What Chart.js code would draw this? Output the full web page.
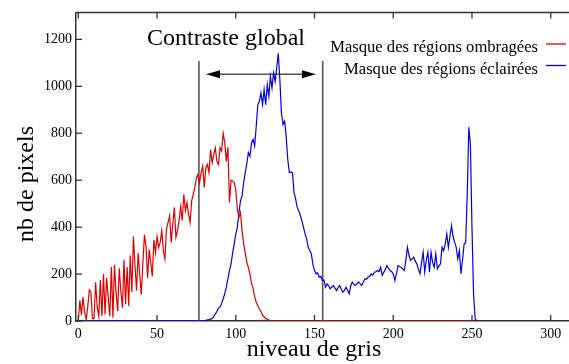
<!DOCTYPE html>
<html>
<head>
<meta charset="utf-8">
<title>Histogramme des niveaux de gris</title>
<script src="https://cdn.jsdelivr.net/npm/chart.js@4.4.1/dist/chart.umd.min.js"></script>
<style>
  html, body { margin: 0; padding: 0; background: #fff; overflow: hidden; }
  #wrap { width: 569px; height: 364px; overflow: hidden; }
  canvas { display: block; }
</style>
</head>
<body>
<div id="wrap"><canvas id="histChart" width="600" height="364"></canvas></div>
<script>
// Series labels
const seriesNames = ['Masque des régions ombragées', 'Masque des régions éclairées'];

// Pixel counts per grey level (index = grey level), shadowed regions mask
const shadowCounts = [
  0, 88, 25, 102, 40, 5, 60, 133, 124, 10, 10, 165, 60, 20, 175, 20, 200, 28, 183, 100,
  20, 230, 14, 240, 120, 42, 225, 130, 57, 261, 71, 230, 64, 280, 124, 360, 237, 130, 290, 200,
  112, 244, 367, 318, 183, 304, 250, 190, 346, 290, 360, 314, 335, 385, 300, 264, 392, 420, 448, 335,
  413, 484, 356, 385, 430, 487, 427, 540, 470, 505, 455, 420, 512, 540, 569, 610, 625, 590, 632, 660,
  569, 653, 667, 632, 731, 674, 710, 738, 681, 667, 738, 724, 800, 760, 680, 740, 505, 600, 597, 590,
  560, 477, 441, 462, 385, 330, 290, 250, 229, 201, 160, 140, 102, 80, 67, 50, 40, 25, 17, 10,
  8, 4, 0, 0, 0, 0, 0, 0, 0, 0, 0, 0, 0, 0, 0, 0, 0, 0, 0, 0,
  0, 0, 0, 0, 0, 0, 0, 0, 0, 0, 0, 0, 0, 0, 0, 0, 0, 0, 0, 0,
  0, 0, 0, 0, 0, 0, 0, 0, 0, 0, 0, 0, 0, 0, 0, 0, 0, 0, 0, 0,
  0, 0, 0, 0, 0, 0, 0, 0, 0, 0, 0, 0, 0, 0, 0, 0, 0, 0, 0, 0,
  0, 0, 0, 0, 0, 0, 0, 0, 0, 0, 0, 0, 0, 0, 0, 0, 0, 0, 0, 0,
  0, 0, 0, 0, 0, 0, 0, 0, 0, 0, 0, 0, 0, 0, 0, 0, 0, 0, 0, 0,
  0, 0, 0, 0, 0, 0, 0, 0, 0, 0, 0, 0, 0
];

// Pixel counts per grey level, lit regions mask
const litCounts = [
  0, 0, 0, 0, 0, 0, 0, 0, 0, 0, 0, 0, 0, 0, 0, 0, 0, 0, 0, 0,
  0, 0, 0, 0, 0, 0, 0, 0, 0, 0, 0, 0, 0, 0, 0, 0, 0, 0, 0, 0,
  0, 0, 0, 0, 0, 0, 0, 0, 0, 0, 0, 0, 0, 0, 0, 0, 0, 0, 0, 0,
  0, 0, 0, 0, 0, 0, 0, 0, 0, 0, 0, 0, 0, 0, 0, 0, 0, 0, 0, 0,
  2, 3, 5, 6, 8, 10, 20, 30, 40, 55, 59, 75, 95, 116, 144, 180, 215, 243, 290, 328,
  370, 400, 460, 512, 533, 590, 632, 670, 717, 702, 760, 774, 745, 830, 922, 936, 972, 922, 986, 922,
  1007, 957, 1042, 993, 1057, 1021, 1080, 1141, 1028, 887, 837, 852, 788, 689, 632, 635, 632, 547, 520, 484,
  470, 450, 427, 400, 371, 350, 314, 300, 286, 240, 215, 201, 205, 187, 190, 173, 175, 144, 158, 150,
  137, 145, 151, 140, 130, 142, 151, 135, 123, 130, 144, 130, 116, 150, 166, 155, 151, 160, 166, 158,
  151, 165, 180, 178, 187, 190, 201, 195, 208, 210, 215, 210, 229, 194, 208, 220, 236, 225, 215, 210,
  201, 173, 200, 236, 232, 229, 222, 215, 260, 314, 280, 258, 265, 272, 255, 243, 220, 201, 250, 293,
  208, 260, 293, 208, 293, 250, 229, 286, 222, 235, 243, 314, 300, 328, 371, 314, 360, 406, 360, 335,
  314, 264, 300, 201, 260, 328, 335, 540, 826, 753, 399, 116, 10, 0
];

// Axis ticks
const xTicks = [0, 50, 100, 150, 200, 250, 300];
const yTicks = [0, 200, 400, 600, 800, 1000, 1200];

// "Contraste global" markers (grey levels) and heights (pixel counts)
const contrastBounds = [76.6, 155.2];
const markerTop = 1108;
const arrowSpan = [81.1, 150.9];
const arrowLevel = 1051;

const serif = '"Liberation Serif", "DejaVu Serif", serif';

// Draws the frame, inner ticks, contrast markers, legend and texts
const decorations = {
  id: 'decorations',
  beforeDatasetsDraw(chart) {
    const ctx = chart.ctx, x = chart.scales.x, y = chart.scales.y;
    ctx.save();
    ctx.strokeStyle = '#555';
    ctx.lineWidth = 1.6;
    contrastBounds.forEach(v => {
      const px = x.getPixelForValue(v);
      ctx.beginPath();
      ctx.moveTo(px, y.getPixelForValue(0));
      ctx.lineTo(px, y.getPixelForValue(markerTop));
      ctx.stroke();
    });
    // double arrow
    const ay = y.getPixelForValue(arrowLevel);
    const a1 = x.getPixelForValue(arrowSpan[0]);
    const a2 = x.getPixelForValue(arrowSpan[1]);
    ctx.strokeStyle = '#555';
    ctx.lineWidth = 1.5;
    ctx.beginPath();
    ctx.moveTo(a1 + 8, ay);
    ctx.lineTo(a2 - 8, ay);
    ctx.stroke();
    ctx.fillStyle = '#000';
    ctx.beginPath();
    ctx.moveTo(a1, ay); ctx.lineTo(a1 + 14, ay - 4); ctx.lineTo(a1 + 14, ay + 4); ctx.closePath();
    ctx.fill();
    ctx.beginPath();
    ctx.moveTo(a2, ay); ctx.lineTo(a2 - 14, ay - 4); ctx.lineTo(a2 - 14, ay + 4); ctx.closePath();
    ctx.fill();
    ctx.restore();
  },
  afterDraw(chart) {
    const ctx = chart.ctx, x = chart.scales.x, y = chart.scales.y;
    const area = chart.chartArea;
    ctx.save();
    ctx.strokeStyle = '#333';
    ctx.lineWidth = 1.5;
    // top frame line
    ctx.beginPath();
    ctx.moveTo(area.left, area.top);
    ctx.lineTo(area.right, area.top);
    ctx.stroke();
    // inner ticks
    ctx.lineWidth = 1.3;
    x.ticks.forEach(t => {
      const px = x.getPixelForValue(t.value);
      ctx.beginPath();
      ctx.moveTo(px, area.bottom); ctx.lineTo(px, area.bottom - 6);
      ctx.moveTo(px, area.top); ctx.lineTo(px, area.top + 6);
      ctx.stroke();
    });
    y.ticks.forEach(t => {
      const py = y.getPixelForValue(t.value);
      ctx.beginPath();
      ctx.moveTo(area.left, py); ctx.lineTo(area.left + 6, py);
      ctx.stroke();
    });

    ctx.fillStyle = '#000';
    // chart title
    ctx.font = '24px ' + serif;
    ctx.textAlign = 'center';
    ctx.textBaseline = 'alphabetic';
    ctx.fillText('Contraste global', 226, 45);

    // axis titles
    ctx.fillText('niveau de gris', 314, 356);
    ctx.save();
    ctx.translate(33, 184);
    ctx.rotate(-Math.PI / 2);
    ctx.fillText('nb de pixels', 0, 0);
    ctx.restore();

    // legend
    ctx.font = '16.6px ' + serif;
    ctx.textAlign = 'right';
    chart.data.datasets.forEach((ds, i) => {
      const base = 52 + i * 21.5;
      ctx.fillStyle = '#000';
      ctx.fillText(ds.label, 538, base);
      ctx.strokeStyle = ds.borderColor;
      ctx.lineWidth = 1.3;
      ctx.beginPath();
      ctx.moveTo(546, base - 8);
      ctx.lineTo(566, base - 8);
      ctx.stroke();
    });
    ctx.restore();
  }
};

const ctx = document.getElementById('histChart').getContext('2d');
new Chart(ctx, {
  type: 'line',
  data: {
    datasets: [{
      label: seriesNames[0],
      data: shadowCounts.map((v, i) => ({ x: i, y: v })),
      borderColor: '#dd0000',
      borderWidth: 1.2,
      pointRadius: 0,
      tension: 0
    }, {
      label: seriesNames[1],
      data: litCounts.map((v, i) => ({ x: i, y: v })),
      borderColor: '#0000e0',
      borderWidth: 1.2,
      pointRadius: 0,
      tension: 0
    }]
  },
  options: {
    responsive: false,
    animation: false,
    events: [],
    layout: { padding: { left: 0, right: 0, top: 11, bottom: 0 } },
    plugins: {
      legend: { display: false },
      tooltip: { enabled: false }
    },
    scales: {
      x: {
        type: 'linear',
        min: -1.46,
        max: 331.3,
        afterFit: s => { s.height = 43; },
        afterBuildTicks: s => { s.ticks = xTicks.map(v => ({ value: v })); },
        grid: { display: false, drawTicks: false },
        border: { display: true, color: '#333', width: 1.5 },
        ticks: { color: '#000', padding: 5, font: { family: serif, size: 14 }, maxRotation: 0,
                 callback: v => String(v) }
      },
      y: {
        min: 0,
        max: 1315,
        afterFit: s => { s.width = 76; },
        afterBuildTicks: s => { s.ticks = yTicks.map(v => ({ value: v })); },
        grid: { display: false, drawTicks: false },
        border: { display: true, color: '#333', width: 1.5 },
        ticks: { color: '#000', padding: 4, font: { family: serif, size: 14 },
                 callback: v => String(v) }
      }
    }
  },
  plugins: [decorations]
});
</script>
</body>
</html>
